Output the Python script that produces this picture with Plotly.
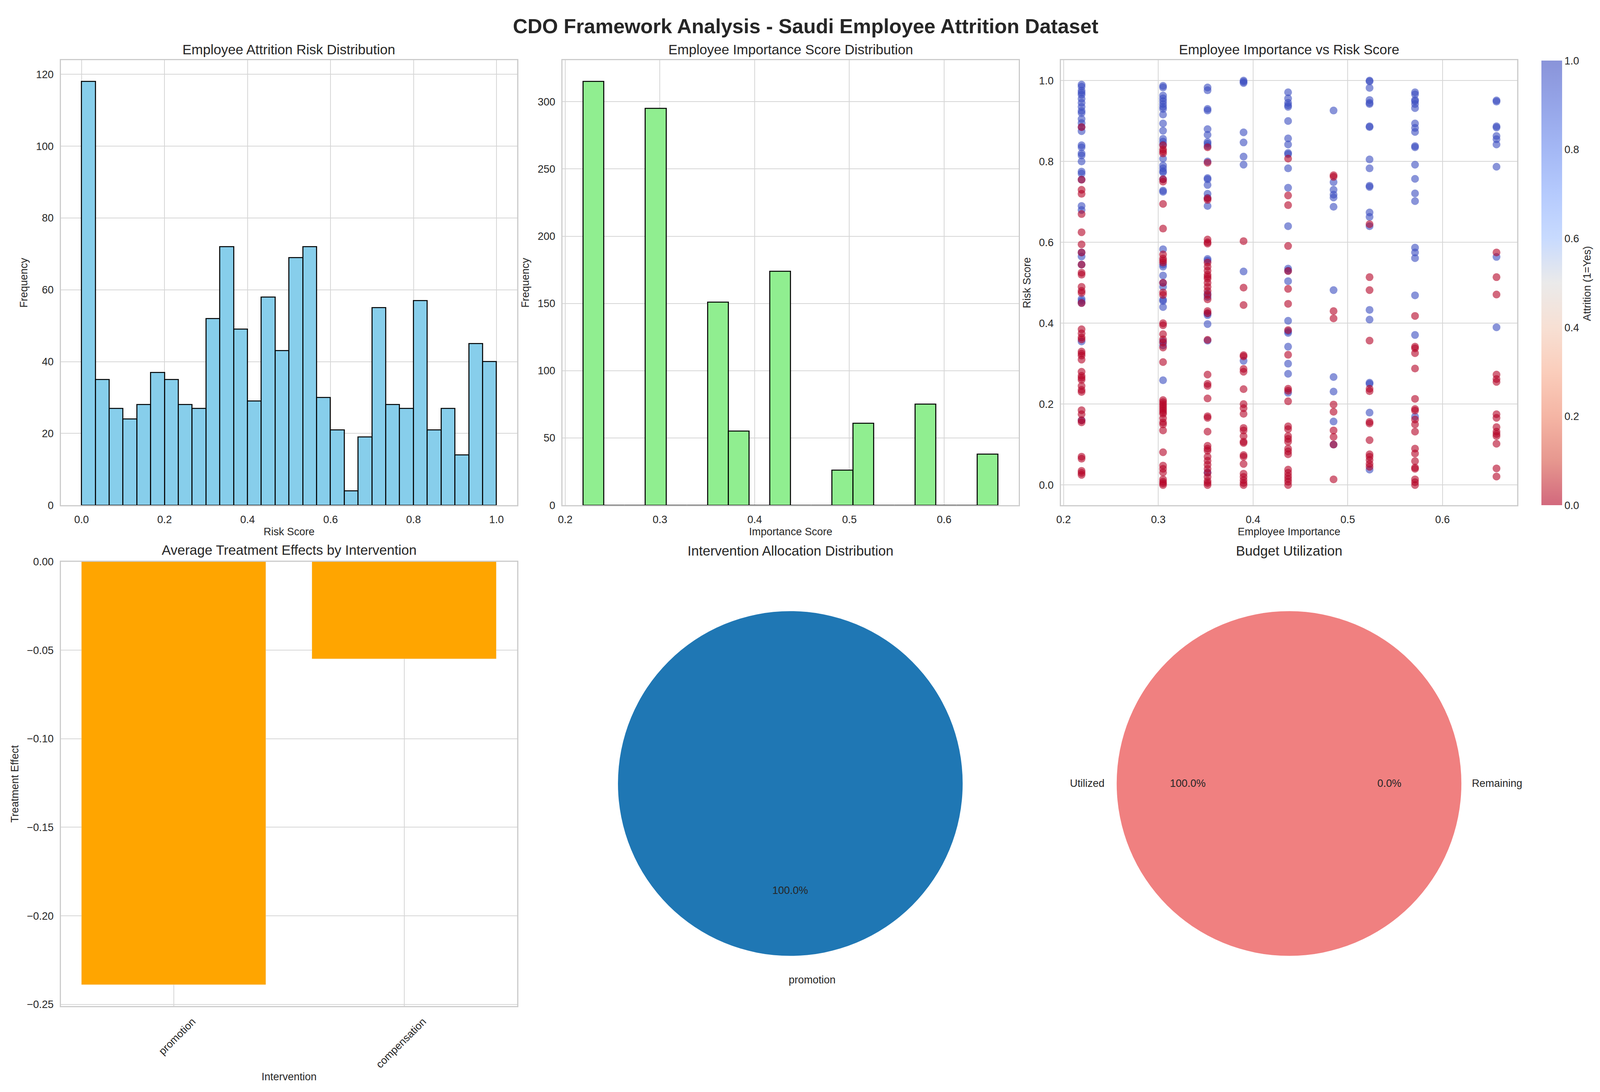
"""
CDO framework dashboard - attrition risk, importance, treatment effects, allocation.
Values read off the reference figure.
"""
import numpy as np
import plotly.graph_objects as go

# ---------------- data ----------------
# risk score histogram, 30 bins on [0, 1]
risk_bin_edges = np.linspace(0.0, 1.0, 31)
risk_counts = [118, 35, 27, 24, 28, 37, 35, 28, 27, 52, 72, 49, 29, 58, 43,
               69, 72, 30, 21, 4, 19, 55, 28, 27, 57, 21, 27, 14, 45, 40]

# importance score histogram, 20 bins between min and max importance
imp_bin_edges = np.linspace(0.219, 0.657, 21)
imp_counts = [315, 0, 0, 295, 0, 0, 151, 55, 0, 174,
              0, 0, 26, 61, 0, 0, 75, 0, 0, 38]

# scatter: importance levels, risk scores of leavers (attrition=1) and stayers (0)
imp_levels = [0.219, 0.305, 0.352, 0.390, 0.437, 0.485, 0.523, 0.571, 0.657]
risk_left = [
    [0.99, 0.985, 0.975, 0.97, 0.965, 0.955, 0.945, 0.935, 0.925, 0.92, 0.905, 0.895, 0.885,
     0.875, 0.84, 0.835, 0.82, 0.815, 0.80, 0.775, 0.77, 0.755, 0.69, 0.68, 0.575, 0.565,
     0.545, 0.46, 0.455, 0.45, 0.355, 0.16],
    [0.987, 0.983, 0.963, 0.956, 0.949, 0.942, 0.935, 0.93, 0.916, 0.894, 0.876, 0.856, 0.849,
     0.842, 0.807, 0.79, 0.783, 0.776, 0.773, 0.756, 0.728, 0.725, 0.583, 0.545, 0.54, 0.518,
     0.50, 0.49, 0.458, 0.455, 0.44, 0.355, 0.345, 0.259],
    [0.983, 0.976, 0.93, 0.926, 0.88, 0.866, 0.848, 0.844, 0.838, 0.80, 0.759, 0.756, 0.742,
     0.72, 0.71, 0.69, 0.559, 0.555, 0.473, 0.465, 0.424, 0.42, 0.398, 0.357, 0.031],
    [1.0, 0.997, 0.994, 0.872, 0.847, 0.812, 0.792, 0.528, 0.307],
    [0.971, 0.956, 0.945, 0.939, 0.935, 0.90, 0.857, 0.842, 0.821, 0.818, 0.783, 0.735, 0.64,
     0.535, 0.53, 0.504, 0.406, 0.38, 0.376, 0.342, 0.30, 0.275, 0.228],
    [0.926, 0.749, 0.73, 0.718, 0.711, 0.688, 0.482, 0.267, 0.231, 0.157, 0.10],
    [1.0, 0.998, 0.982, 0.952, 0.945, 0.942, 0.887, 0.885, 0.805, 0.783, 0.74, 0.737, 0.674,
     0.663, 0.64, 0.433, 0.409, 0.253, 0.25, 0.179, 0.038],
    [0.971, 0.966, 0.952, 0.949, 0.942, 0.932, 0.894, 0.883, 0.873, 0.838, 0.835, 0.792, 0.757,
     0.721, 0.702, 0.587, 0.575, 0.561, 0.469, 0.371, 0.169],
    [0.951, 0.948, 0.887, 0.884, 0.863, 0.855, 0.842, 0.787, 0.564, 0.39],
]
risk_stayed = [
    [0.885, 0.755, 0.73, 0.72, 0.67, 0.625, 0.595, 0.575, 0.545, 0.525, 0.52, 0.49, 0.48, 0.475,
     0.45, 0.385, 0.375, 0.365, 0.36, 0.33, 0.325, 0.32, 0.31, 0.28, 0.27, 0.265, 0.26, 0.245,
     0.235, 0.23, 0.185, 0.175, 0.16, 0.155, 0.07, 0.065, 0.035, 0.03, 0.025],
    [0.84, 0.83, 0.825, 0.82, 0.756, 0.75, 0.695, 0.634, 0.57, 0.56, 0.555, 0.55, 0.50, 0.476,
     0.47, 0.40, 0.395, 0.373, 0.36, 0.352, 0.34, 0.304, 0.21, 0.205, 0.2, 0.195, 0.19, 0.185,
     0.18, 0.176, 0.165, 0.155, 0.15, 0.135, 0.081, 0.048, 0.04, 0.031, 0.014, 0.008, 0.004, 0.0],
    [0.835, 0.797, 0.709, 0.705, 0.607, 0.6, 0.597, 0.55, 0.54, 0.53, 0.52, 0.515, 0.51, 0.50,
     0.49, 0.48, 0.47, 0.459, 0.43, 0.425, 0.359, 0.273, 0.25, 0.245, 0.214, 0.17, 0.166, 0.132,
     0.097, 0.09, 0.085, 0.07, 0.06, 0.05, 0.04, 0.03, 0.02, 0.01, 0.005, 0.0],
    [0.603, 0.488, 0.445, 0.321, 0.318, 0.287, 0.28, 0.237, 0.2, 0.19, 0.176, 0.141, 0.135,
     0.121, 0.107, 0.104, 0.074, 0.07, 0.052, 0.028, 0.02, 0.012, 0.005, 0.0],
    [0.807, 0.716, 0.692, 0.591, 0.529, 0.485, 0.448, 0.383, 0.322, 0.238, 0.233, 0.207, 0.145,
     0.138, 0.121, 0.114, 0.107, 0.09, 0.083, 0.076, 0.038, 0.03, 0.022, 0.015, 0.008, 0.0],
    [0.766, 0.762, 0.43, 0.412, 0.199, 0.181, 0.135, 0.119, 0.10, 0.014],
    [0.645, 0.514, 0.482, 0.357, 0.238, 0.232, 0.156, 0.152, 0.111, 0.076, 0.07, 0.062, 0.052, 0.045],
    [0.418, 0.342, 0.338, 0.326, 0.288, 0.213, 0.188, 0.184, 0.162, 0.15, 0.132, 0.09, 0.078,
     0.059, 0.043, 0.04, 0.014, 0.007, 0.0],
    [0.575, 0.514, 0.471, 0.273, 0.262, 0.255, 0.175, 0.166, 0.143, 0.132, 0.126, 0.121, 0.102,
     0.041, 0.021],
]

# average treatment effects
interventions = ['promotion', 'compensation']
treatment_effects = [-0.239, -0.055]

# intervention allocation (only promotion used)
alloc_labels = ['promotion']
alloc_counts = [1]

# budget utilisation
budget_labels = ['Utilized', 'Remaining']
budget_values = [1.0, 0.0]

# ---------------- style ----------------
# layout measured on a 4376 x 2795 sheet, used as fractions so the figure fills the page
W, H = 4376, 2795
VW = 4096  # width the page actually gets, only used to keep pies round
FONT = 'Liberation Sans, Arial, sans-serif'
TXT = '#262626'
GRID = '#d6d6d6'
TICK = 27

# coolwarm reversed, alpha 0.6 so markers and colorbar fade alike
coolwarm = ['#3b4cc0', '#4f69d9', '#6788ee', '#84a7fc', '#a3c2fe', '#dddcdc',
            '#f2cbb7', '#f7ac8e', '#ee8468', '#d65244', '#b40426']


def rgba(h, a=0.6):
    return 'rgba(%d,%d,%d,%.2f)' % (int(h[1:3], 16), int(h[3:5], 16), int(h[5:7], 16), a)


cw_r = [[i / 10, rgba(c)] for i, c in enumerate(reversed(coolwarm))]


def px_x(a, b):
    return [a / W, b / W]


def px_y(top, bottom):
    return [1 - bottom / H, 1 - top / H]


def pie_domain(cx, cy, r):
    # round pie of radius r (page px) centred on a sheet point
    fx, fy = cx / W, 1 - cy / H
    return dict(x=[fx - r / VW, fx + r / VW], y=[fy - r / H, fy + r / H])


def axis(dom, **kw):
    d = dict(domain=dom, showgrid=True, gridcolor=GRID, gridwidth=2.2, zeroline=False,
             showline=True, linecolor='#cccccc', linewidth=3, mirror=True, ticks='',
             ticklabelstandoff=10, tickfont=dict(size=TICK, color=TXT, family=FONT),
             title_font=dict(size=TICK, color=TXT, family=FONT))
    d.update(kw)
    return d


fig = go.Figure()

# 1. risk histogram
risk_centers = (risk_bin_edges[:-1] + risk_bin_edges[1:]) / 2
fig.add_trace(go.Bar(x=risk_centers, y=risk_counts, width=np.diff(risk_bin_edges),
                     marker=dict(color='skyblue', line=dict(color='black', width=2.6)),
                     xaxis='x', yaxis='y', showlegend=False))

# 2. importance histogram
imp_centers = (imp_bin_edges[:-1] + imp_bin_edges[1:]) / 2
fig.add_trace(go.Bar(x=imp_centers, y=imp_counts, width=np.diff(imp_bin_edges),
                     marker=dict(color='lightgreen', line=dict(color='black', width=2.6)),
                     xaxis='x2', yaxis='y2', showlegend=False))

# 3. importance vs risk scatter
sx, sy, sc = [], [], []
for lvl, left, stay in zip(imp_levels, risk_left, risk_stayed):
    sx += [lvl] * len(left) + [lvl] * len(stay)
    sy += left + stay
    sc += [1] * len(left) + [0] * len(stay)
fig.add_trace(go.Scatter(
    x=sx, y=sy, mode='markers', xaxis='x3', yaxis='y3', showlegend=False,
    marker=dict(size=20, color=sc, cmin=0, cmax=1, colorscale=cw_r, line=dict(width=0),
                colorbar=dict(x=4215 / W, xanchor='left', xpad=0, ypad=0,
                              y=1 - 717 / H, yanchor='middle', len=1150 / H,
                              thickness=53, outlinewidth=0, dtick=0.2, tickformat='.1f',
                              ticks='', tickfont=dict(size=TICK, color=TXT, family=FONT)))))

# 4. treatment effects
fig.add_trace(go.Bar(x=interventions, y=treatment_effects, marker_color='orange',
                     width=0.8, xaxis='x4', yaxis='y4', showlegend=False))

# 5. allocation pie
fig.add_trace(go.Pie(labels=alloc_labels, values=alloc_counts, sort=False,
                     marker=dict(colors=['#1f77b4'], line=dict(width=0)), textinfo='none',
                     domain=pie_domain(2155, 2012, 446), showlegend=False))

# 6. budget pie
fig.add_trace(go.Pie(labels=budget_labels, values=budget_values, sort=False,
                     marker=dict(colors=['lightcoral', 'lightskyblue'], line=dict(width=0)),
                     textinfo='none', domain=pie_domain(3523, 2012, 446), showlegend=False))

fig.update_layout(
    autosize=True, margin=dict(l=0, r=0, t=0, b=0),
    paper_bgcolor='white', plot_bgcolor='white', font=dict(family=FONT, color=TXT),
    bargap=0,
    xaxis=axis(px_x(154, 1406), anchor='y', range=[-0.05, 1.05], dtick=0.2, tickformat='.1f',
               title=dict(text='Risk Score', standoff=8)),
    yaxis=axis(px_y(141, 1292), anchor='x', range=[0, 123.9], dtick=20,
               title=dict(text='Frequency', standoff=14)),
    xaxis2=axis(px_x(1530, 2782), anchor='y2', range=[0.1971, 0.6789], dtick=0.1,
                tickformat='.1f', title=dict(text='Importance Score', standoff=8)),
    yaxis2=axis(px_y(141, 1292), anchor='x2', range=[0, 330.75], dtick=50,
                title=dict(text='Frequency', standoff=14)),
    xaxis3=axis(px_x(2897, 4149), anchor='y3', range=[0.1971, 0.6789], dtick=0.1,
                tickformat='.1f', title=dict(text='Employee Importance', standoff=8)),
    yaxis3=axis(px_y(141, 1292), anchor='x3', range=[-0.05, 1.05], dtick=0.2,
                tickformat='.1f', title=dict(text='Risk Score', standoff=14)),
    xaxis4=axis(px_x(154, 1406), anchor='y4', range=[-0.49, 1.49], tickangle=-45,
                ticklabelshift=48, title=dict(text='Intervention', standoff=8)),
    yaxis4=axis(px_y(1438, 2588), anchor='x4', range=[-0.251, 0], dtick=0.05,
                tickformat='.2f', title=dict(text='Treatment Effect', standoff=14)),
)

# titles and pie labels
ann = []


def label(text, x, y, size=TICK, angle=0, bold=False):
    ann.append(dict(text='<b>%s</b>' % text if bold else text, x=x / W, y=1 - y / H,
                    xref='paper', yref='paper', showarrow=False, textangle=angle,
                    xanchor='center', yanchor='middle',
                    font=dict(size=size, color=TXT, family=FONT)))


label('CDO Framework Analysis - Saudi Employee Attrition Dataset', 2197, 53, size=52, bold=True)
label('Employee Attrition Risk Distribution', 780, 113, size=35)
label('Employee Importance Score Distribution', 2156, 113, size=35)
label('Employee Importance vs Risk Score', 3523, 113, size=35)
label('Average Treatment Effects by Intervention', 780, 1408, size=35)
label('Intervention Allocation Distribution', 2155, 1410, size=35)
label('Budget Utilization', 3523, 1410, size=35)
label('Attrition (1=Yes)', 4341, 718, angle=-90)

alloc_pct = [v / sum(alloc_counts) * 100 for v in alloc_counts]
label('%.1f%%' % alloc_pct[0], 2155, 2289)
label(alloc_labels[0], 2215, 2520)

budget_pct = [v / sum(budget_values) * 100 for v in budget_values]
label(budget_labels[0], 2970, 2012)
label('%.1f%%' % budget_pct[0], 3246, 2012)
label('%.1f%%' % budget_pct[1], 3798, 2012)
label(budget_labels[1], 4094, 2012)

fig.update_layout(annotations=ann)
fig.write_html('out.html', default_width='100vw', default_height='100vh',
               config={'displayModeBar': False})

# drop the page margin so the figure fills the window exactly
with open('out.html') as f:
    page = f.read()
page = page.replace('<body>', '<body style="margin:0;overflow:hidden">', 1)
with open('out.html', 'w') as f:
    f.write(page)
